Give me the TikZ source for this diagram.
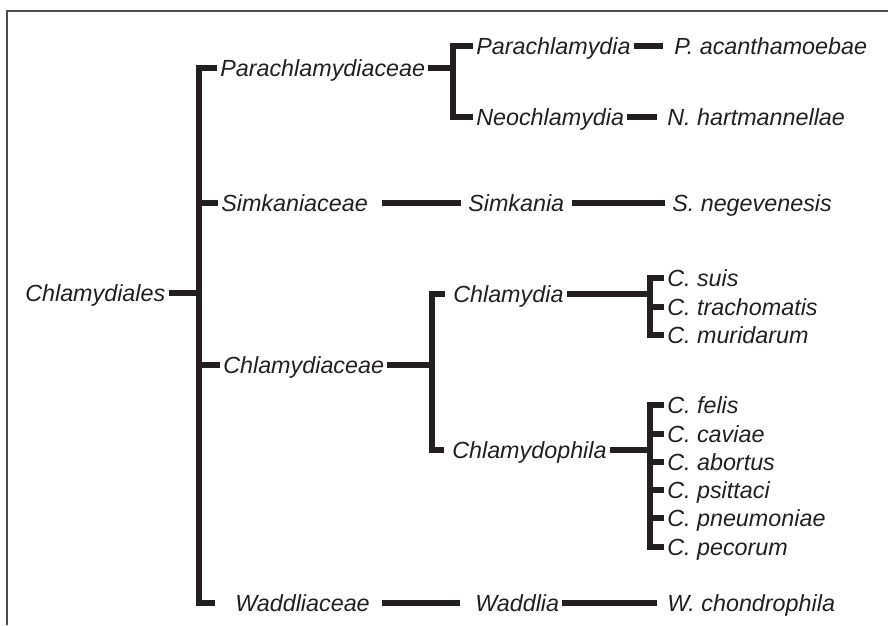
\documentclass[tikz,border=0pt]{standalone}
\usepackage{fontspec}
\setmainfont{Liberation Sans}

\definecolor{ink}{HTML}{231F20}

\begin{document}
\begin{tikzpicture}[
  x=0.75pt, y=-0.75pt,
  taxon/.style={
    font=\fontsize{17.5}{20}\selectfont\itshape, text=ink,
    inner xsep=2.25pt, inner ysep=0pt, text height=12.5pt, text depth=0pt,
    anchor=west,
  },
  branch/.style={draw=ink, line width=3.8pt},
  frame/.style={draw=black!70, line width=1.1pt},
]

% Page and frame
\useasboundingbox (0,0) rectangle (888,625);
\draw[frame] (7,625) -- (7,11) -- (888,11);

% Order and families
\node[taxon] (chlamydiales) at (22,293) {Chlamydiales};
\node[taxon] (parachlamydiaceae) at (217,68) {Parachlamydiaceae};
\node[taxon] (simkaniaceae) at (218,203) {Simkaniaceae};
\node[taxon] (chlamydiaceae) at (220,365) {Chlamydiaceae};
\node[taxon] (waddliaceae) at (232,603) {Waddliaceae};

% Genera
\node[taxon] (parachlamydia) at (473,46) {Parachlamydia};
\node[taxon] (neochlamydia) at (473,117) {Neochlamydia};
\node[taxon] (simkania) at (465,203) {Simkania};
\node[taxon] (chlamydia) at (450,294) {Chlamydia};
\node[taxon] (chlamydophila) at (449,450) {Chlamydophila};
\node[taxon] (waddlia) at (472,603) {Waddlia};

% Species
\node[taxon] (pacanth) at (671,46) {P. acanthamoebae};
\node[taxon] (nhart) at (664,117) {N. hartmannellae};
\node[taxon] (snege) at (669,203) {S. negevenesis};
\node[taxon] (csuis) at (664,278) {C. suis};
\node[taxon] (ctrach) at (664,307) {C. trachomatis};
\node[taxon] (cmurid) at (664,335) {C. muridarum};
\node[taxon] (cfelis) at (664,405) {C. felis};
\node[taxon] (ccaviae) at (664,434) {C. caviae};
\node[taxon] (cabort) at (664,462) {C. abortus};
\node[taxon] (cpsitt) at (664,490) {C. psittaci};
\node[taxon] (cpneum) at (664,518) {C. pneumoniae};
\node[taxon] (cpecor) at (664,547) {C. pecorum};
\node[taxon] (wchon) at (664,603) {W. chondrophila};

% Junctions of the brackets
\coordinate (j0) at (199,293);
\coordinate (j1) at (453,68);
\coordinate (j2) at (432,365);
\coordinate (j3) at (650,294);
\coordinate (j4) at (650,450);

% Chlamydiales -> families
\draw[branch] (chlamydiales.east) -- (j0);
\draw[branch] (parachlamydiaceae.west) -| (j0) |- ([xshift=-13pt]waddliaceae.west);
\draw[branch] (j0 |- simkaniaceae.west) -- (simkaniaceae.west);
\draw[branch] (j0 |- chlamydiaceae.west) -- (chlamydiaceae.west);

% Parachlamydiaceae
\draw[branch] (parachlamydiaceae.east) -- (j1);
\draw[branch] (parachlamydia.west) -| (j1) |- (neochlamydia.west);
\draw[branch, shorten >=6pt] (parachlamydia.east) -- (pacanth.west);
\draw[branch, shorten >=5pt] (neochlamydia.east) -- (nhart.west);

% Simkaniaceae
\draw[branch, shorten <=8pt, shorten >=3pt] (simkaniaceae.east) -- (simkania.west);
\draw[branch, shorten <=3pt, shorten >=3pt] (simkania.east) -- (snege.west);

% Chlamydiaceae
\draw[branch] (chlamydiaceae.east) -- (j2);
\draw[branch] ([xshift=-4pt]chlamydia.west) -| (j2) |- ([xshift=-4pt]chlamydophila.west);

% Chlamydia species
\draw[branch] (chlamydia.east) -- (j3);
\draw[branch] (csuis.west) -| (j3) |- (cmurid.west);
\draw[branch] (j3 |- ctrach.west) -- (ctrach.west);

% Chlamydophila species
\draw[branch] (chlamydophila.east) -- (j4);
\draw[branch] (cfelis.west) -| (j4) |- (cpecor.west);
\draw[branch] (j4 |- ccaviae.west) -- (ccaviae.west);
\draw[branch] (j4 |- cabort.west) -- (cabort.west);
\draw[branch] (j4 |- cpsitt.west) -- (cpsitt.west);
\draw[branch] (j4 |- cpneum.west) -- (cpneum.west);

% Waddliaceae
\draw[branch, shorten <=7pt, shorten >=9pt] (waddliaceae.east) -- (waddlia.west);
\draw[branch, shorten >=5pt] (waddlia.east) -- (wchon.west);

\end{tikzpicture}
\end{document}
